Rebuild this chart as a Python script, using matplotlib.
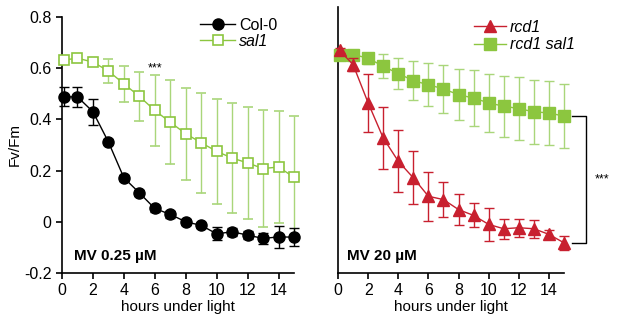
import numpy as np
import matplotlib.pyplot as plt
from matplotlib.lines import Line2D

plt.rcParams["font.family"] = ["Liberation Sans", "DejaVu Sans"]
plt.rcParams["font.size"] = 10.5

# hours under light (first point drawn just right of the axis)
hours = [0.1, 1, 2, 3, 4, 5, 6, 7, 8, 9, 10, 11, 12, 13, 14, 15]

# MV 0.25 uM
col0 = [0.488, 0.488, 0.43, 0.312, 0.172, 0.113, 0.052, 0.029, 0.0, -0.014,
        -0.047, -0.039, -0.052, -0.065, -0.059, -0.06]
col0_err = [0.037, 0.04, 0.05, 0.01, 0.012, 0.012, 0.015, 0.015, 0.012, 0.01,
            0.026, 0.015, 0.015, 0.02, 0.043, 0.035]
sal1 = [0.632, 0.639, 0.624, 0.589, 0.539, 0.49, 0.435, 0.389, 0.344, 0.309,
        0.275, 0.249, 0.23, 0.208, 0.214, 0.174]
sal1_err = [0.01, 0.01, 0.012, 0.045, 0.07, 0.096, 0.14, 0.163, 0.18, 0.195,
            0.205, 0.215, 0.22, 0.23, 0.22, 0.24]

# MV 20 uM
rcd1 = [0.67, 0.615, 0.465, 0.328, 0.237, 0.172, 0.1, 0.087, 0.048, 0.025,
        -0.01, -0.027, -0.023, -0.027, -0.049, -0.082]
rcd1_err = [0.01, 0.025, 0.115, 0.12, 0.122, 0.104, 0.095, 0.07, 0.06, 0.047,
            0.066, 0.04, 0.035, 0.035, 0.017, 0.028]
rcd1_sal1 = [0.654, 0.654, 0.64, 0.608, 0.58, 0.552, 0.536, 0.52, 0.497, 0.484,
             0.465, 0.452, 0.443, 0.43, 0.426, 0.413]
rcd1_sal1_err = [0.01, 0.01, 0.022, 0.047, 0.06, 0.077, 0.085, 0.095, 0.1, 0.11,
                 0.114, 0.12, 0.123, 0.124, 0.124, 0.126]

GREEN = "#8cc63f"
GREEN_ERR = "#a9d67a"
RED = "#c8202f"

fig = plt.figure(figsize=(6.17, 3.27), dpi=100)
ax1 = fig.add_axes([62 / 617, 54 / 327, 232 / 617, 256 / 327])
ax2 = fig.add_axes([338 / 617, 54 / 327, 226 / 617, 266 / 327])


def style(ax, top):
    ax.set_xlim(0, 15)
    ax.set_ylim(-0.2, top)
    for s in ["top", "right"]:
        ax.spines[s].set_visible(False)
    ax.spines["left"].set_linewidth(1.2)
    ax.spines["bottom"].set_linewidth(1.2)
    ax.set_xticks(range(0, 15, 2))
    ax.tick_params(direction="out", length=4, width=1.2, labelsize=11.5)
    ax.set_xlabel("hours under light", fontsize=11, labelpad=1)


style(ax1, 0.8)
style(ax2, 0.84)

# left panel
ax1.errorbar(hours, sal1, yerr=sal1_err, color=GREEN, ecolor=GREEN_ERR,
             marker="s", ms=7, mfc="white", mec=GREEN, mew=1.2, lw=1,
             capsize=3.5, elinewidth=1, clip_on=False, zorder=3)
ax1.errorbar(hours, col0, yerr=col0_err, color="black", marker="o", ms=8,
             lw=1, capsize=3.5, elinewidth=1, clip_on=False, zorder=4)
ax1.set_yticks([-0.2, 0, 0.2, 0.4, 0.6, 0.8])
ax1.set_yticklabels(["-0.2", "0", "0.2", "0.4", "0.6", "0.8"])
ax1.set_ylabel("Fv/Fm", fontsize=11, labelpad=2)
ax1.text(0.8, -0.135, "MV 0.25 µM", fontsize=11, fontweight="bold", va="center")
ax1.text(6, 0.6, "***", fontsize=9, ha="center", va="center")
h1 = [Line2D([], [], color="black", marker="o", ms=8, lw=1),
      Line2D([], [], color=GREEN, marker="s", ms=7, mfc="white", mec=GREEN,
             mew=1.2, lw=1)]
leg1 = ax1.legend(h1, ["Col-0", "sal1"], loc="upper left",
                  bbox_to_anchor=(200 / 617, 1 - 18 / 327),
                  bbox_transform=fig.transFigure, frameon=False, fontsize=11.5,
                  handlelength=2.2, handletextpad=0.25, labelspacing=0.05,
                  borderpad=0, borderaxespad=0)
leg1.get_texts()[1].set_style("italic")

# right panel
ax2.errorbar(hours, rcd1_sal1, yerr=rcd1_sal1_err, color=GREEN,
             ecolor=GREEN_ERR, marker="s", ms=8, lw=1, capsize=3.5,
             elinewidth=1, clip_on=False, zorder=3)
ax2.errorbar(hours, rcd1, yerr=rcd1_err, color=RED, marker="^", ms=8, lw=1,
             capsize=3.5, elinewidth=1, clip_on=False, zorder=4)
ax2.set_yticks([])
ax2.text(0.6, -0.135, "MV 20 µM", fontsize=11, fontweight="bold", va="center")
h2 = [Line2D([], [], color=RED, marker="^", ms=8, lw=1),
      Line2D([], [], color=GREEN, marker="s", ms=8, lw=1)]
leg2 = ax2.legend(h2, ["rcd1", "rcd1 sal1"], loc="upper left",
                  bbox_to_anchor=(474 / 617, 1 - 20 / 327),
                  bbox_transform=fig.transFigure, frameon=False, fontsize=11.5,
                  handlelength=2.0, handletextpad=0.25, labelspacing=0.15,
                  borderpad=0, borderaxespad=0)
for t in leg2.get_texts():
    t.set_style("italic")

# significance bracket between the two end points
ax2.plot([15.5, 16.45, 16.45, 15.5], [rcd1_sal1[-1], rcd1_sal1[-1], rcd1[-1], rcd1[-1]],
         color="black", lw=1, clip_on=False)
ax2.text(17.5, (rcd1_sal1[-1] + rcd1[-1]) / 2, "***", fontsize=9,
         ha="center", va="center", clip_on=False)

fig.savefig("out.png", dpi=100)
